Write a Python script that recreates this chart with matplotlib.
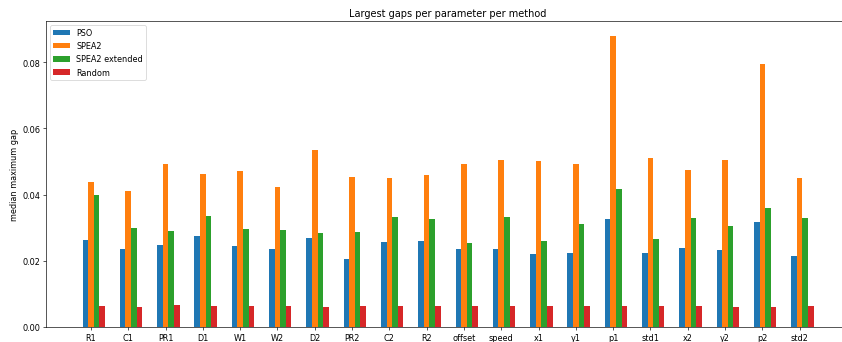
import numpy as np
import matplotlib
matplotlib.use("Agg")
import matplotlib.pyplot as plt

params = ['R1', 'C1', 'PR1', 'D1', 'W1', 'W2', 'D2', 'PR2', 'C2', 'R2',
          'offset', 'speed', 'x1', 'y1', 'p1', 'std1', 'x2', 'y2', 'p2', 'std2']

pso = [0.0263, 0.0237, 0.0249, 0.0274, 0.0245, 0.0235, 0.0269, 0.0205, 0.0256, 0.0261,
       0.0237, 0.0237, 0.0221, 0.0223, 0.0326, 0.0223, 0.0239, 0.0233, 0.0316, 0.0213]
spea2 = [0.0439, 0.0411, 0.0491, 0.0463, 0.0470, 0.0422, 0.0535, 0.0453, 0.0450, 0.0459,
         0.0491, 0.0504, 0.0500, 0.0491, 0.0880, 0.0510, 0.0473, 0.0505, 0.0793, 0.0449]
spea2_ext = [0.0400, 0.0300, 0.0291, 0.0336, 0.0297, 0.0293, 0.0284, 0.0286, 0.0332, 0.0326,
             0.0254, 0.0332, 0.0259, 0.0311, 0.0416, 0.0265, 0.0329, 0.0304, 0.0359, 0.0330]
rand = [0.0064, 0.0060, 0.0067, 0.0062, 0.0062, 0.0062, 0.0060, 0.0062, 0.0064, 0.0064,
        0.0064, 0.0062, 0.0064, 0.0064, 0.0064, 0.0064, 0.0062, 0.0060, 0.0060, 0.0064]

methods = {'PSO': pso, 'SPEA2': spea2, 'SPEA2 extended': spea2_ext, 'Random': rand}

x = np.arange(len(params))
width = 0.15

# big figure drawn at a low dpi so the text stays small
fig = plt.figure(figsize=(14.41, 5.863), dpi=58.5)
ax = fig.add_axes([0.0546, 0.0437, 0.954, 0.892])

for i, (name, vals) in enumerate(methods.items()):
    ax.bar(x + (i - 1) * width, vals, width, label=name)

ax.set_xticks(x)
ax.set_xticklabels(params)
ax.set_ylabel('median maximum gap')
ax.set_title('Largest gaps per parameter per method')
ax.legend(loc='upper left')

fig.savefig('out.png', dpi=58.5)
